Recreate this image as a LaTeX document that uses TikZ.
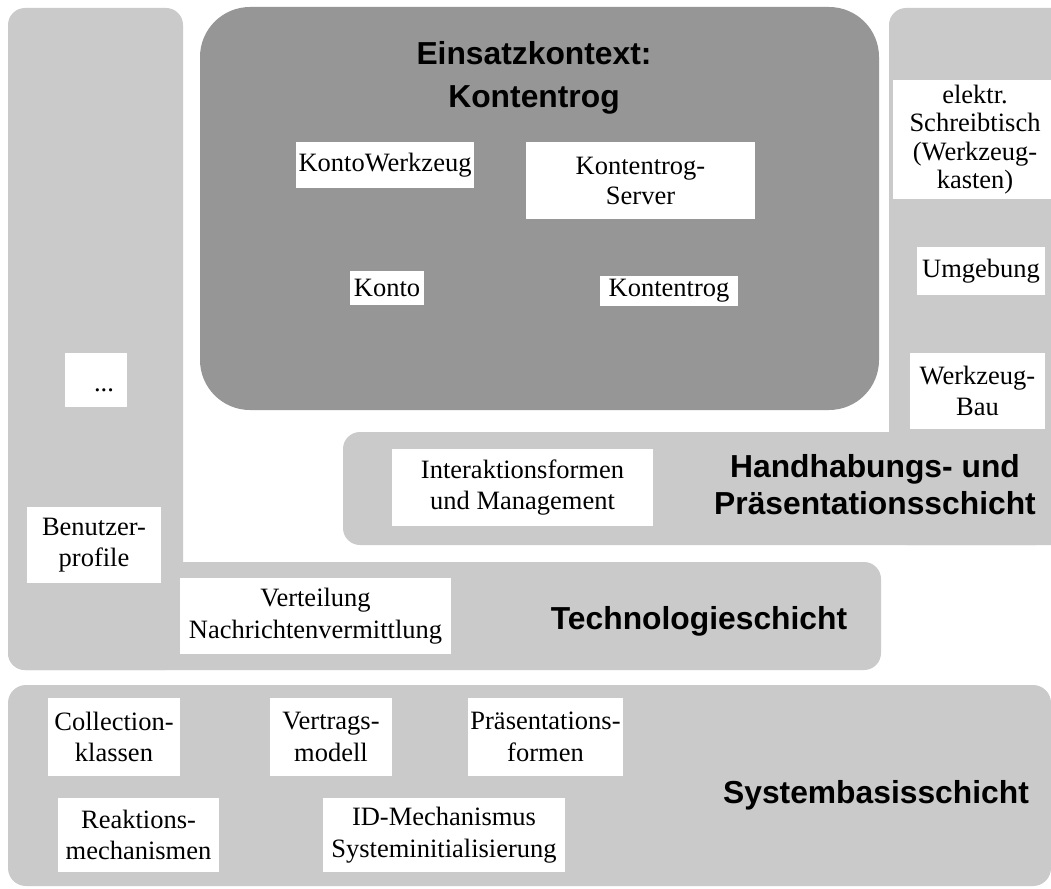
\documentclass[tikz,border=0pt]{standalone}
\usepackage{fontspec}
\setmainfont{Liberation Serif}
\setsansfont{Liberation Sans}
\begin{document}
\begin{tikzpicture}[x=1pt,y=-1pt,
  panel/.style={fill=layergray},
  ctxpanel/.style={fill=ctxgray},
  wbox/.style={fill=white, inner sep=0pt, outer sep=0pt, align=center,
    font=\fontsize{26.5}{31.5}\selectfont},
  plain/.style={inner sep=0pt, outer sep=0pt, font=\fontsize{26.5}{31.5}\selectfont},
  layer/.style={inner sep=0pt, outer sep=0pt, anchor=base,
    font=\sffamily\bfseries\fontsize{31.8}{38}\selectfont}]
\definecolor{layergray}{RGB}{202,202,202}
\definecolor{ctxgray}{RGB}{150,150,150}
\useasboundingbox (0,0) rectangle (1051,888);
\fill[white] (0,0) rectangle (1051,888);
\clip (0,0) rectangle (1051,888);

% Technologieschicht (L-shaped)
\fill[panel, rounded corners=17pt] (8,8) rectangle (183,670);
\fill[panel, rounded corners=17pt] (8,562) rectangle (881,670);

% Handhabungs- und Praesentationsschicht (L-shaped)
\fill[panel, rounded corners=17pt] (889,8) rectangle (1075,545);
\fill[panel, rounded corners=17pt] (343,432) rectangle (1053,545);

% Systembasisschicht
\fill[panel, rounded corners=18pt] (8,685) rectangle (1051,886);

% Einsatzkontext
\fill[ctxpanel, rounded corners=50pt] (200,7) rectangle (879,410);

% Layer titles
\node[layer] (ek1) at (534,65) {Einsatzkontext:};
\node[layer] (ek2) at (534,108) {Kontentrog};
\node[layer] (hp1) at (875,477) {Handhabungs- und};
\node[layer] (hp2) at (875,514) {Präsentationsschicht};
\node[layer] (ts) at (699,629) {Technologieschicht};
\node[layer] (sb) at (876,803) {Systembasisschicht};

% Einsatzkontext components
\node[wbox, minimum width=178pt, minimum height=46pt] (kw) at (385,165) {KontoWerkzeug};
\node[wbox, minimum width=229pt, minimum height=77pt, font=\fontsize{26.5}{30}\selectfont] (ks) at (640.5,180.5) {Kontentrog-\\Server};
\node[wbox, minimum width=74pt, minimum height=34pt] (ko) at (387,288) {Konto};
\node[wbox, minimum width=138pt, minimum height=30pt] (kt) at (669,291) {Kontentrog};

% Left column
\node[wbox, minimum width=62pt, minimum height=54pt] (dotbox) at (96,380) {};
\node[plain, anchor=base] (dots) at (104,391) {...};
\node[wbox, minimum width=134pt, minimum height=76pt] (bp) at (94,545) {Benutzer-\\profile};

% Right column
\node[wbox, minimum width=164pt, minimum height=119pt, font=\fontsize{26.5}{28.5}\selectfont] (es) at (975,139.5) {elektr.\\Schreibtisch\\(Werkzeug-\\kasten)};
\node[wbox, minimum width=128pt, minimum height=48pt] (um) at (981,271) {Umgebung};
\node[wbox, minimum width=135pt, minimum height=76pt] (wb) at (977.5,391) {Werkzeug-\\Bau};

% Handhabung / Technologie contents
\node[wbox, minimum width=261pt, minimum height=77pt] (im) at (522.5,487.5) {Interaktionsformen\\und Management};
\node[wbox, minimum width=271pt, minimum height=76pt] (vn) at (315.5,616) {Verteilung\\Nachrichtenvermittlung};

% Systembasis contents
\node[wbox, minimum width=132pt, minimum height=78pt] (ck) at (114,737) {Collection-\\klassen};
\node[wbox, minimum width=122pt, minimum height=78pt] (vm) at (331,737) {Vertrags-\\modell};
\node[wbox, minimum width=155pt, minimum height=78pt] (pf) at (545.5,737) {Präsentations-\\formen};
\node[wbox, minimum width=161pt, minimum height=74pt] (rm) at (138.5,835) {Reaktions-\\mechanismen};
\node[wbox, minimum width=242pt, minimum height=74pt] (id) at (444,835) {ID-Mechanismus\\Systeminitialisierung};
\end{tikzpicture}
\end{document}
